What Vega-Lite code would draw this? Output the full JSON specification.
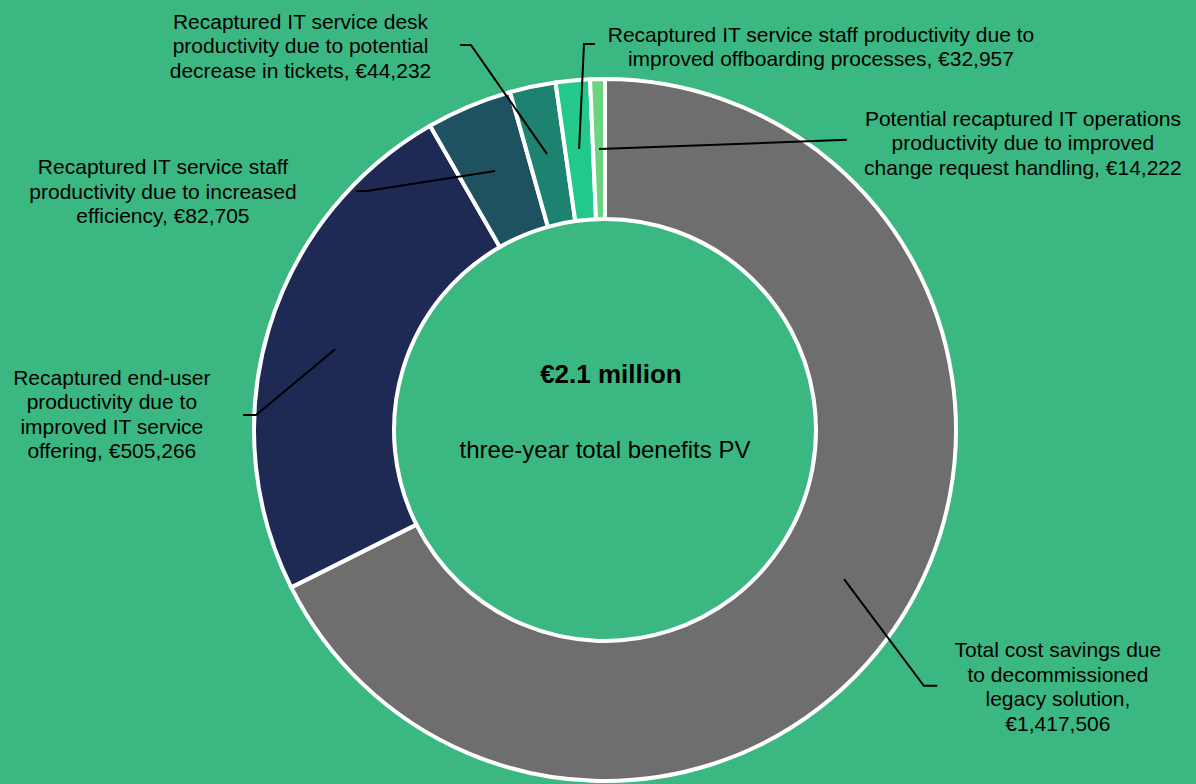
{
  "$schema": "https://vega.github.io/schema/vega-lite/v6.json",
  "width": 1196,
  "height": 784,
  "padding": 0,
  "autosize": {"type": "none"},
  "background": "#3BB882",
  "config": {"view": {"stroke": null}, "text": {"font": "Liberation Sans, Arial, sans-serif"}},
  "datasets": {
    "slices": [
      {"category": "legacy", "value": 1417506},
      {"category": "enduser", "value": 505266},
      {"category": "efficiency", "value": 82705},
      {"category": "desk", "value": 44232},
      {"category": "offboarding", "value": 32957},
      {"category": "change", "value": 14222}
    ],
    "labels": [
      {"category": "legacy", "label": "Total cost savings due\nto decommissioned\nlegacy solution,\n€1,417,506", "lx": 129.4, "ly": -64.9},
      {"category": "enduser", "label": "Recaptured end-user\nproductivity due to\nimproved IT service\noffering, €505,266", "lx": -140.9, "ly": 12.9},
      {"category": "efficiency", "label": "Recaptured IT service staff\nproductivity due to increased\nefficiency, €82,705", "lx": -126.3, "ly": 73.1},
      {"category": "desk", "label": "Recaptured IT service desk\nproductivity due to potential\ndecrease in tickets, €44,232", "lx": -87.0, "ly": 114.6},
      {"category": "offboarding", "label": "Recaptured IT service staff productivity due to\nimproved offboarding processes, €32,957", "lx": 61.7, "ly": 110.9},
      {"category": "change", "label": "Potential recaptured IT operations\nproductivity due to improved\nchange request handling, €14,222", "lx": 119.4, "ly": 86.9}
    ],
    "leaders": [
      {"category": "legacy", "step": 1, "lx": 68.3, "ly": -42.6},
      {"category": "legacy", "step": 2, "lx": 91.1, "ly": -73.1},
      {"category": "legacy", "step": 3, "lx": 94.9, "ly": -73.1},
      {"category": "enduser", "step": 1, "lx": -77.1, "ly": 23.1},
      {"category": "enduser", "step": 2, "lx": -99.7, "ly": 4.3},
      {"category": "enduser", "step": 3, "lx": -103.4, "ly": 4.3},
      {"category": "efficiency", "step": 1, "lx": -31.4, "ly": 74.0},
      {"category": "efficiency", "step": 2, "lx": -68.0, "ly": 68.3},
      {"category": "efficiency", "step": 3, "lx": -71.1, "ly": 68.3},
      {"category": "desk", "step": 1, "lx": -16.6, "ly": 78.9},
      {"category": "desk", "step": 2, "lx": -38.3, "ly": 110.0},
      {"category": "desk", "step": 3, "lx": -41.4, "ly": 110.0},
      {"category": "offboarding", "step": 1, "lx": -7.4, "ly": 80.3},
      {"category": "offboarding", "step": 2, "lx": -6.0, "ly": 110.3},
      {"category": "offboarding", "step": 3, "lx": -2.9, "ly": 110.3},
      {"category": "change", "step": 1, "lx": -1.7, "ly": 80.3},
      {"category": "change", "step": 2, "lx": 69.1, "ly": 82.9}
    ],
    "centre": [
      {"role": "total", "text": "€2.1 million", "cx": 1.7, "cy": 13.4},
      {"role": "caption", "text": "three-year total benefits PV", "cx": 0, "cy": -8.0}
    ]
  },
  "layer": [
    {
      "data": {"name": "slices"},
      "mark": {"type": "arc", "radius": 351, "radius2": 211, "stroke": "white", "strokeWidth": 4},
      "encoding": {
        "theta": {"field": "value", "type": "quantitative", "stack": true},
        "order": {"field": "value", "sort": "descending"},
        "color": {
          "field": "category",
          "type": "nominal",
          "scale": {
            "domain": ["legacy", "enduser", "efficiency", "desk", "offboarding", "change"],
            "range": ["#6E6E6E", "#1F2A54", "#1F5261", "#1E8270", "#23C98A", "#6BD47F"]
          },
          "legend": null
        },
        "x": {"datum": 0, "type": "quantitative", "scale": {"domain": [-172.857, 168.857], "nice": false, "zero": false}, "axis": null},
        "y": {"datum": 0, "type": "quantitative", "scale": {"domain": [-101.143, 122.857], "nice": false, "zero": false}, "axis": null}
      }
    },
    {
      "data": {"name": "leaders"},
      "mark": {"type": "line", "color": "#000000", "strokeWidth": 2},
      "encoding": {
        "x": {"field": "lx", "type": "quantitative", "scale": {"domain": [-172.857, 168.857], "nice": false, "zero": false}, "axis": null},
        "y": {"field": "ly", "type": "quantitative", "scale": {"domain": [-101.143, 122.857], "nice": false, "zero": false}, "axis": null},
        "detail": {"field": "category", "type": "nominal"},
        "order": {"field": "step", "type": "quantitative"}
      }
    },
    {
      "data": {"name": "labels"},
      "mark": {"type": "text", "align": "center", "baseline": "alphabetic", "lineBreak": "\n", "fontSize": 21, "lineHeight": 24.5, "color": "#000000"},
      "encoding": {
        "x": {"field": "lx", "type": "quantitative", "scale": {"domain": [-172.857, 168.857], "nice": false, "zero": false}, "axis": null},
        "y": {"field": "ly", "type": "quantitative", "scale": {"domain": [-101.143, 122.857], "nice": false, "zero": false}, "axis": null},
        "text": {"field": "label", "type": "nominal"}
      }
    },
    {
      "data": {"name": "centre"},
      "transform": [{"filter": "datum.role === 'total'"}],
      "mark": {"type": "text", "align": "center", "baseline": "alphabetic", "fontSize": 26, "fontWeight": "bold", "color": "#000000"},
      "encoding": {
        "x": {"field": "cx", "type": "quantitative", "scale": {"domain": [-172.857, 168.857], "nice": false, "zero": false}, "axis": null},
        "y": {"field": "cy", "type": "quantitative", "scale": {"domain": [-101.143, 122.857], "nice": false, "zero": false}, "axis": null},
        "text": {"field": "text", "type": "nominal"}
      }
    },
    {
      "data": {"name": "centre"},
      "transform": [{"filter": "datum.role === 'caption'"}],
      "mark": {"type": "text", "align": "center", "baseline": "alphabetic", "fontSize": 24, "color": "#000000"},
      "encoding": {
        "x": {"field": "cx", "type": "quantitative", "scale": {"domain": [-172.857, 168.857], "nice": false, "zero": false}, "axis": null},
        "y": {"field": "cy", "type": "quantitative", "scale": {"domain": [-101.143, 122.857], "nice": false, "zero": false}, "axis": null},
        "text": {"field": "text", "type": "nominal"}
      }
    }
  ]
}
